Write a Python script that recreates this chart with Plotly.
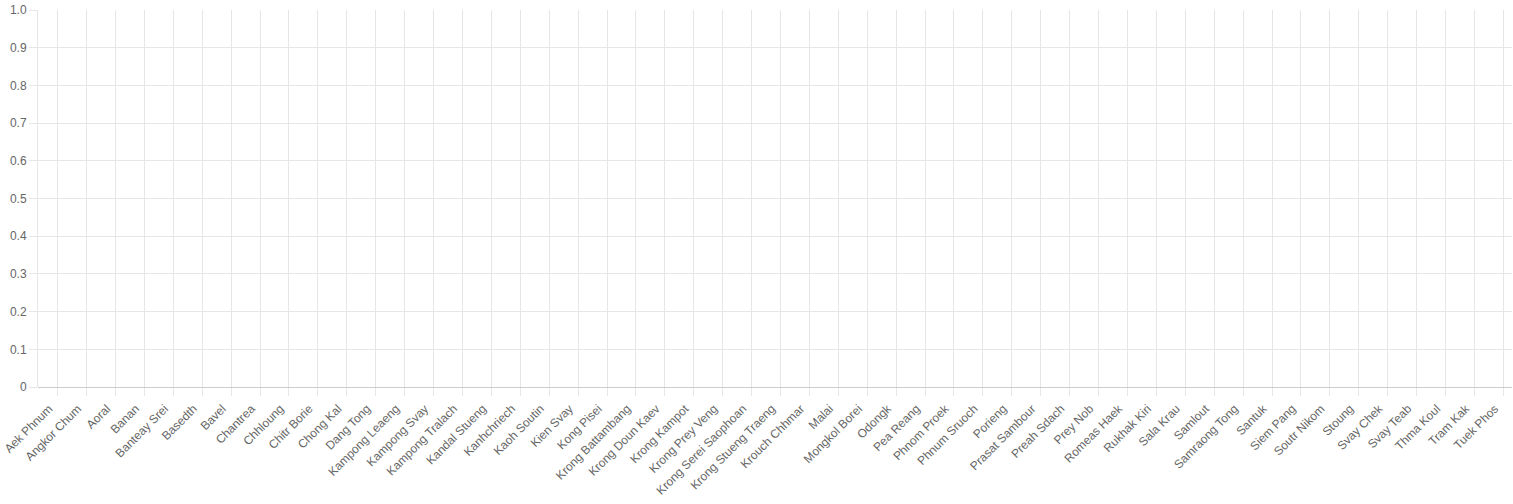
import plotly.graph_objects as go

districts = [
    "Aek Phnum", "Angkor Chum", "Aoral", "Banan", "Banteay Srei", "Basedth", "Bavel",
    "Chantrea", "Chhloung", "Chitr Borie", "Chong Kal", "Dang Tong", "Kampong Leaeng",
    "Kampong Svay", "Kampong Tralach", "Kandal Stueng", "Kanhchriech", "Kaoh Soutin",
    "Kien Svay", "Kong Pisei", "Krong Battambang", "Krong Doun Kaev", "Krong Kampot",
    "Krong Prey Veng", "Krong Serei Saophoan", "Krong Stueng Traeng", "Krouch Chhmar",
    "Malai", "Mongkol Borei", "Odongk", "Pea Reang", "Phnom Proek", "Phnum Sruoch",
    "Porieng", "Prasat Sambour", "Preah Sdach", "Prey Nob", "Romeas Haek", "Rukhak Kiri",
    "Sala Krau", "Samlout", "Samraong Tong", "Santuk", "Siem Pang", "Soutr Nikom",
    "Stoung", "Svay Chek", "Svay Teab", "Thma Koul", "Tram Kak", "Tuek Phos",
]
values = [None] * len(districts)  # chart shows no data

y_tickvals = [0, 0.1, 0.2, 0.3, 0.4, 0.5, 0.6, 0.7, 0.8, 0.9, 1.0]
y_ticktext = ["0", "0.1", "0.2", "0.3", "0.4", "0.5", "0.6", "0.7", "0.8", "0.9", "1.0"]

grid = "#e6e6e6"
font = dict(family="Liberation Sans, Arial, Helvetica, sans-serif", size=12, color="#666666")

x_range = [-0.681, 50.30]
label_shift = 0.30  # labels sit slightly left of their tick, as in the reference

fig = go.Figure()
fig.add_trace(go.Scatter(x=districts, y=values, mode="lines", showlegend=False,
                         line=dict(color="rgba(54,162,235,1)")))
fig.add_trace(go.Scatter(x=districts, y=values, mode="lines", showlegend=False,
                         xaxis="x2", hoverinfo="skip",
                         line=dict(color="rgba(0,0,0,0)")))

fig.update_layout(
    width=1513, height=504,
    margin=dict(l=38, r=1, t=10, b=117, autoexpand=False),
    paper_bgcolor="white", plot_bgcolor="white",
    font=font,
    showlegend=False,
    xaxis=dict(
        type="category", categoryorder="array", categoryarray=districts,
        tickvals=districts, showticklabels=False,
        range=x_range, automargin=False,
        showgrid=True, gridcolor=grid, gridwidth=1,
        ticks="outside", ticklen=8, tickcolor=grid, tickwidth=1,
        showline=False, zeroline=False,
    ),
    xaxis2=dict(
        type="category", categoryorder="array", categoryarray=districts,
        overlaying="x", anchor="y", side="bottom",
        tickvals=districts, ticktext=districts,
        range=[x_range[0] + label_shift, x_range[1] + label_shift],
        tickangle=-45, automargin=False,
        showgrid=False, showline=False, zeroline=False,
        ticks="outside", ticklen=9, tickcolor="rgba(0,0,0,0)",
        tickfont=font,
    ),
    yaxis=dict(
        range=[0, 1], automargin=False,
        tickvals=y_tickvals, ticktext=y_ticktext,
        showgrid=True, gridcolor=grid, gridwidth=1,
        ticks="outside", ticklen=8, tickcolor=grid, tickwidth=1,
        showline=True, linecolor=grid, linewidth=1,
        zeroline=True, zerolinecolor="#cccccc", zerolinewidth=1,
        tickfont=font,
    ),
)

fig.write_html("out.html", config={"displayModeBar": False},
               post_script="document.body.style.margin='0';")
